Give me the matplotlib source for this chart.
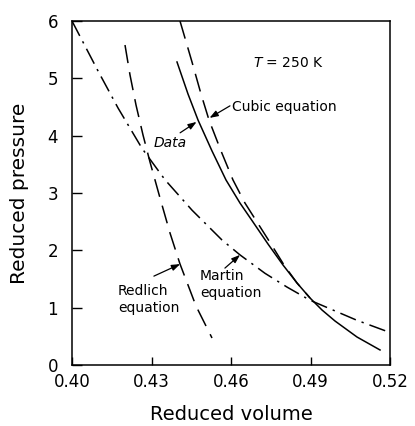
import numpy as np
import matplotlib
matplotlib.use("Agg")
from matplotlib import pyplot as plt

# reduced volume / reduced pressure along each isotherm (T = 250 K)
data_v = [0.43962, 0.44377, 0.44755, 0.45283, 0.45811, 0.46340, 0.46830, 0.47396,
          0.47962, 0.48491, 0.48981, 0.49434, 0.49925, 0.50755, 0.51623]
data_p = [5.285, 4.727, 4.273, 3.733, 3.227, 2.824, 2.494, 2.110,
          1.744, 1.430, 1.169, 0.959, 0.767, 0.488, 0.262]

cubic_v = [0.44075, 0.44528, 0.44868, 0.45170, 0.45623, 0.46075, 0.46528, 0.46981,
           0.47509, 0.48000, 0.48491, 0.48981]
cubic_p = [6.000, 5.285, 4.727, 4.273, 3.733, 3.227, 2.824, 2.494,
           2.110, 1.744, 1.430, 1.169]

redlich_v = [0.42000, 0.42189, 0.42415, 0.42679, 0.42943, 0.43321, 0.43698, 0.44075,
             0.44679, 0.45283]
redlich_p = [5.581, 5.058, 4.535, 4.012, 3.541, 2.913, 2.302, 1.762, 1.029, 0.471]

martin_v = [0.4000, 0.4098, 0.4174, 0.4264, 0.4351, 0.4453, 0.4566, 0.4634, 0.4728,
            0.4811, 0.4898, 0.5075, 0.5192]
martin_p = [6.00, 5.13, 4.48, 3.78, 3.23, 2.70, 2.18, 1.92, 1.60, 1.36, 1.13, 0.78, 0.58]

x_ticks = [0.40, 0.43, 0.46, 0.49, 0.52]
y_ticks = [0, 1, 2, 3, 4, 5, 6]

plt.rcParams["font.family"] = ["DejaVu Sans"]

fig = plt.figure(figsize=(4.15, 4.26), dpi=100)
ax = fig.add_axes([0.1735, 0.1432, 0.7663, 0.8075])

lw = 1.1
ax.plot(data_v, data_p, color="black", lw=lw)
ax.plot(cubic_v, cubic_p, color="black", lw=lw, dashes=(12, 6))
ax.plot(redlich_v, redlich_p, color="black", lw=lw, dashes=(12, 6))
ax.plot(martin_v, martin_p, color="black", lw=lw, dashes=(11, 4, 1.5, 4))

ax.set_xlim(0.40, 0.52)
ax.set_ylim(0, 6)
ax.set_xticks(x_ticks)
ax.set_xticklabels([f"{t:.2f}" for t in x_ticks])
ax.set_yticks(y_ticks)
ax.tick_params(axis="y", direction="in", length=7, width=1, labelsize=12, pad=10)
ax.tick_params(axis="x", direction="in", length=6, width=1, labelsize=12, pad=6)
for s in ax.spines.values():
    s.set_linewidth(1.1)

ax.set_xlabel("Reduced volume", fontsize=14, labelpad=10)
ax.set_ylabel("Reduced pressure", fontsize=14.5, labelpad=13)

arrow = dict(arrowstyle="-|>,head_length=0.5,head_width=0.18", color="black", lw=0.9,
             shrinkA=0, shrinkB=0)
txt = dict(fontsize=10, color="black")

ax.text(0.4683, 5.27, "$T$ = 250 K", ha="left", va="center", **txt)

ax.annotate("", xy=(0.4519, 4.31), xytext=(0.4596, 4.52), arrowprops=arrow)
ax.text(0.4604, 4.50, "Cubic equation", ha="left", va="center", **txt)

ax.annotate("", xy=(0.4470, 4.24), xytext=(0.4408, 4.05), arrowprops=arrow)
ax.text(0.4370, 3.87, "Data", ha="center", va="center", style="italic", **txt)

ax.annotate("", xy=(0.4634, 1.92), xytext=(0.4577, 1.69), arrowprops=arrow)
ax.text(0.4483, 1.68, "Martin\nequation", ha="left", va="top", linespacing=1.3, **txt)

ax.annotate("", xy=(0.4408, 1.76), xytext=(0.4309, 1.55), arrowprops=arrow)
ax.text(0.4174, 1.41, "Redlich\nequation", ha="left", va="top", linespacing=1.3, **txt)

fig.savefig("out.png", dpi=100)
